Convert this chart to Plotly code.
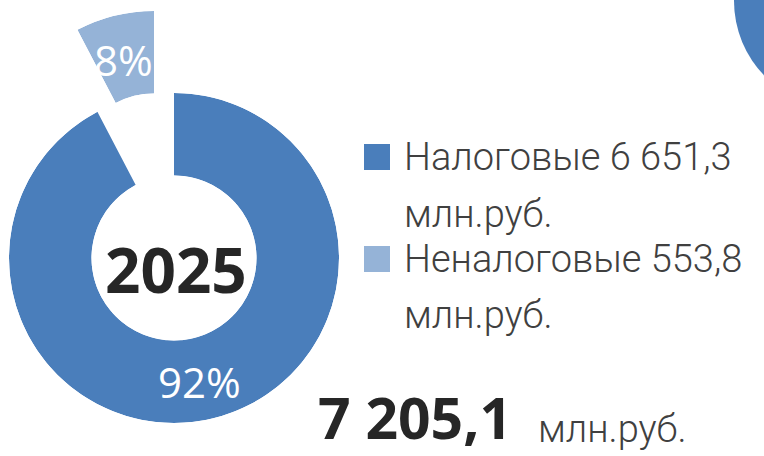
import math
import plotly.graph_objects as go

# ---- data ----
year_label = "2025"
categories = ["Налоговые", "Неналоговые"]
values = [6651.3, 553.8]          # млн.руб.
unit = "млн.руб."
colors = ["#4A7EBB", "#95B3D7"]

W, H = 764, 456
total = sum(values)
shares = [v / total for v in values]


def fmt_ru(v):
    return f"{v:,.1f}".replace(",", " ").replace(".", ",")


def px(x):
    return x / W


def py(y):
    return 1 - y / H


# geometry of the doughnut (pixels)
CX, CY, R = 174, 258, 165
HOLE = 0.5
PULL_DX, PULL_DY = -20, -82   # exploded slice offset

fig = go.Figure()

# slices: clockwise from 12 o'clock
start = 0.0
thetas, widths = [], []
for s in shares:
    widths.append(s * 360)
    thetas.append(start + s * 360 / 2)
    start += s * 360

fig.add_trace(go.Barpolar(
    r=[1], theta=[thetas[0]], width=[widths[0]], base=0,
    marker=dict(color=colors[0], line=dict(width=0)),
    subplot="polar", showlegend=False, hoverinfo="skip",
))
fig.add_trace(go.Barpolar(
    r=[1], theta=[thetas[1]], width=[widths[1]], base=0,
    marker=dict(color=colors[1], line=dict(width=0)),
    subplot="polar2", showlegend=False, hoverinfo="skip",
))

sec0 = 90.0
sec1 = 90.0 + widths[1]
sx = math.sin(math.radians(widths[1]))
cx2, cy2 = CX + PULL_DX, CY + PULL_DY

axis_off = dict(visible=False, showgrid=False, showline=False, showticklabels=False, ticks="")
fig.update_layout(
    width=W, height=H,
    margin=dict(l=0, r=0, t=0, b=0),
    paper_bgcolor="white", plot_bgcolor="white",
    polar=dict(
        domain=dict(x=[px(CX - R), px(CX + R)], y=[py(CY + R), py(CY - R)]),
        hole=HOLE, bgcolor="rgba(0,0,0,0)",
        radialaxis=dict(range=[0, 1], **axis_off),
        angularaxis=dict(rotation=90, direction="clockwise", **axis_off),
    ),
    polar2=dict(
        domain=dict(x=[px(cx2 - sx * R), px(cx2)], y=[py(cy2), py(cy2 - R)]),
        sector=[sec0, sec1],
        hole=HOLE, bgcolor="rgba(0,0,0,0)",
        radialaxis=dict(range=[0, 1], **axis_off),
        angularaxis=dict(rotation=90, direction="clockwise", **axis_off),
    ),
    showlegend=False,
)

BOLD_FONT = "Open Sans"
LIGHT_FONT = "Roboto"
DARK = "#262626"
GREY = "#404040"
ann = []


def add_text(text, x, y, size, color, family, weight=400, xanchor="center"):
    ann.append(dict(text=text, x=px(x), y=py(y), xref="paper", yref="paper",
                    xanchor=xanchor, yanchor="middle", showarrow=False,
                    font=dict(family=family, size=size, color=color, weight=weight)))


# centre year
add_text(year_label, 175.5, 269, 62, DARK, BOLD_FONT, 700)
# percentages
pcts = [f"{round(s * 100)}%" for s in shares]
add_text(pcts[0], 199, 381, 42, "white", BOLD_FONT, 400)
add_text(pcts[1], 123.5, 59, 42, "white", BOLD_FONT, 400)

# legend
LS = 38
off = 0.342 * LS
leg_rows = [(144, 170, 227), (246, 272, 328)]
shapes = []
for i, (sq_top, b1, b2) in enumerate(leg_rows):
    shapes.append(dict(type="rect", xref="paper", yref="paper",
                       x0=px(364), x1=px(390), y0=py(sq_top + 26), y1=py(sq_top),
                       fillcolor=colors[i], line=dict(width=0)))
    add_text(f"{categories[i]} {fmt_ru(values[i])}", 402, b1 - off, LS, GREY, LIGHT_FONT, 300, "left")
    add_text(unit, 402, b2 - off, LS, GREY, LIGHT_FONT, 300, "left")

# total
TS = 57
add_text(fmt_ru(total), 316, 439 - 0.388 * TS, TS, DARK, BOLD_FONT, 700, "left")
add_text(unit, 536, 442 - off, LS, GREY, LIGHT_FONT, 300, "left")

# neighbouring chart fragment at the top-right corner
shapes.append(dict(type="circle", xref="paper", yref="paper", layer="below",
                   x0=px(734), x1=px(948), y0=py(108), y1=py(-106),
                   fillcolor=colors[0], line=dict(width=0)))

fig.update_layout(annotations=ann, shapes=shapes)
fig.write_html(
    "out.html",
    config={"displayModeBar": False},
    post_script="document.body.style.margin='0px';document.body.style.overflow='hidden';",
)
